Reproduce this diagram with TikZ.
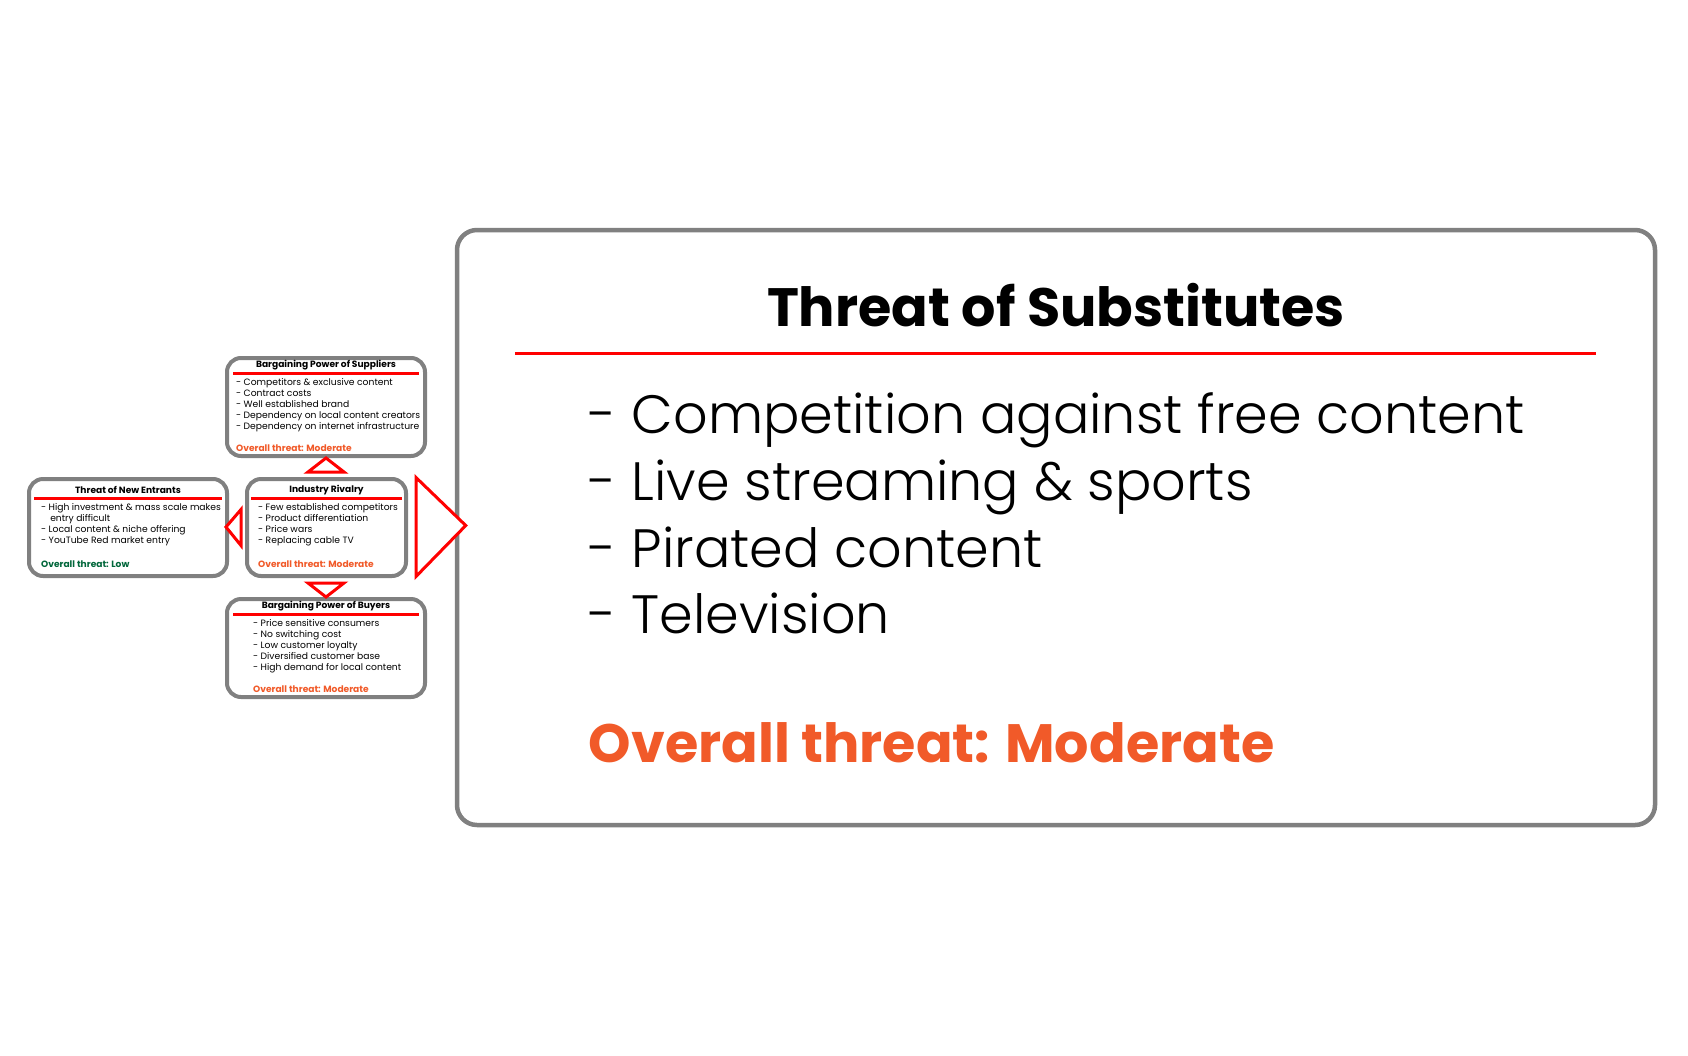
\documentclass[tikz,border=0pt]{standalone}
\usepackage{fontspec}
\setmainfont{Poppins}
\newfontfamily\lightfont{Poppins Light}
\usetikzlibrary{positioning,calc}
\definecolor{Frame}{HTML}{808080}
\definecolor{Rule}{HTML}{FF0000}
\definecolor{Moderate}{HTML}{F15A29}
\definecolor{Low}{HTML}{00663A}
\tikzset{
  forcebox/.style={draw=Frame,line width=4pt,rounded corners=14pt,fill=white,
              minimum width=198pt,minimum height=98pt,inner sep=0pt},
  bigbox/.style={draw=Frame,line width=4.5pt,rounded corners=20pt,fill=white,
              minimum width=1198pt,minimum height=595pt,inner sep=0pt},
  forcetitle/.style={font=\fontsize{9.1}{10}\selectfont\bfseries,inner sep=0pt},
  forcelist/.style={font=\fontsize{9.2}{11.1}\selectfont,align=left,anchor=north west,inner sep=0pt},
  forcethreat/.style={font=\fontsize{9.1}{10}\selectfont\bfseries,anchor=west,inner sep=0pt},
  rule/.style={draw=Rule,line width=3pt},
  pointer/.style={draw=Rule,line width=3pt,fill=white,line join=miter}
}
\begin{document}
\begin{tikzpicture}[x=1pt,y=-1pt]
  \useasboundingbox (0,0) rectangle (1688,1055);
  % the four small forces
  \node[forcebox] (suppliers) at (326,407) {};
  \node[forcebox,minimum height=97pt] (entrants) at (128,527.5) {};
  \node[forcebox,minimum width=159pt,minimum height=97pt] (rivalry) at (326.5,527.5) {};
  \node[forcebox] (buyers) at (326,648) {};
  % substitutes, enlarged
  \node[bigbox] (substitutes) at (1056,527.5) {};

  % suppliers
  \node[forcetitle] (suppliers-t) at ($(suppliers.north)+(0,9)$) {Bargaining Power of Suppliers};
  \draw[rule] ($(suppliers.north west)+(8,17)$) -- ($(suppliers.north east)+(-8,17)$);
  \node[forcelist] (suppliers-l) at ($(suppliers.north west)+(11,22)$)
    {- Competitors \& exclusive content\\- Contract costs\\- Well established brand\\
     - Dependency on local content creators\\- Dependency on internet infrastructure};
  \node[forcethreat,text=Moderate] (suppliers-o) at ($(suppliers.south west)+(11,-10)$) {Overall threat: Moderate};

  % new entrants
  \node[forcetitle] (entrants-t) at ($(entrants.north)+(0,13)$) {Threat of New Entrants};
  \draw[rule] ($(entrants.north west)+(7,21)$) -- ($(entrants.north east)+(-7,21)$);
  \node[forcelist] (entrants-l) at ($(entrants.north west)+(14,26)$)
    {- High investment \& mass scale makes\\\phantom{- }\,entry difficult\\
     - Local content \& niche offering\\- YouTube Red market entry};
  \node[forcethreat,text=Low] (entrants-o) at ($(entrants.south west)+(14,-14)$) {Overall threat: Low};

  % rivalry
  \node[forcetitle] (rivalry-t) at ($(rivalry.north)+(0,13)$) {Industry Rivalry};
  \draw[rule] ($(rivalry.north west)+(6,21)$) -- ($(rivalry.north east)+(-6,21)$);
  \node[forcelist] (rivalry-l) at ($(rivalry.north west)+(13,26)$)
    {- Few established competitors\\- Product differentiation\\- Price wars\\- Replacing cable TV};
  \node[forcethreat,text=Moderate] (rivalry-o) at ($(rivalry.south west)+(13,-14)$) {Overall threat: Moderate};

  % buyers
  \node[forcetitle] (buyers-t) at ($(buyers.north)+(0,9)$) {Bargaining Power of Buyers};
  \draw[rule] ($(buyers.north west)+(8,17)$) -- ($(buyers.north east)+(-8,17)$);
  \node[forcelist] (buyers-l) at ($(buyers.north west)+(28,22)$)
    {- Price sensitive consumers\\- No switching cost\\- Low customer loyalty\\
     - Diversified customer base\\- High demand for local content};
  \node[forcethreat,text=Moderate] (buyers-o) at ($(buyers.south west)+(28,-10)$) {Overall threat: Moderate};

  % substitutes text
  \node[font=\fontsize{54}{60}\selectfont\bfseries,inner sep=0pt] (substitutes-t)
    at ($(substitutes.north)+(0,77)$) {Threat of Substitutes};
  \draw[rule] ($(substitutes.north west)+(60,126)$) -- ($(substitutes.north east)+(-61,126)$);
  \node[font=\fontsize{54}{66.7}\selectfont\lightfont,align=left,anchor=north west,inner sep=0pt]
    (substitutes-l) at ($(substitutes.north west)+(134,165)$)
    {- Competition against free content\\- Live streaming \& sports\\- Pirated content\\- Television};
  \node[font=\fontsize{54}{60}\selectfont\bfseries,text=Moderate,anchor=west,inner sep=0pt]
    (substitutes-o) at ($(substitutes.north west)+(134,515)$) {Overall threat: Moderate};

  % pointers between the forces
  \draw[pointer] ($(rivalry.north)+(-18.5,-5)$) -- (suppliers.south) -- ($(rivalry.north)+(17.5,-5)$) -- cycle;
  \draw[pointer] ($(rivalry.south)+(-18.5,5)$) -- (buyers.north) -- ($(rivalry.south)+(17.5,5)$) -- cycle;
  \draw[pointer] ($(rivalry.west)+(-4,-18)$) -- ($(entrants.east)+(-3,-0.5)$) -- ($(rivalry.west)+(-4,18)$) -- cycle;
  \draw[pointer] ($(rivalry.east)+(8,-50)$) -- ($(substitutes.west)+(11,-2)$) -- ($(rivalry.east)+(8,49)$) -- cycle;
\end{tikzpicture}
\end{document}
